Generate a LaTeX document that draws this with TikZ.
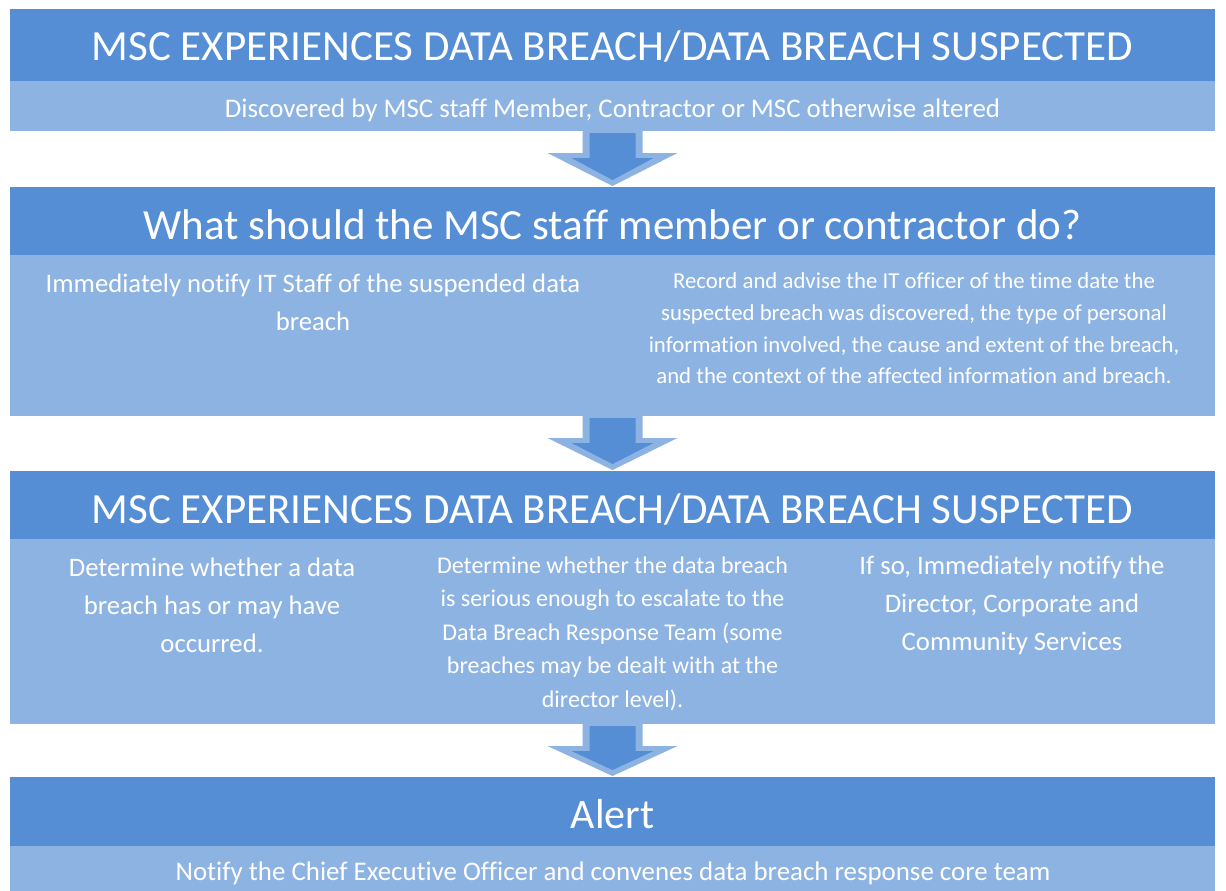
\documentclass[tikz,border=0pt]{standalone}
\usepackage{fontspec}
\setmainfont[Ligatures=CommonOff]{Carlito}
\usetikzlibrary{calc}
\definecolor{hdrblue}{RGB}{85,142,213}
\definecolor{subblue}{RGB}{141,179,226}

\tikzset{
  band/.style={anchor=north west, inner sep=0pt, outer sep=0pt, minimum width=1205pt},
  hdrbox/.style={band, fill=hdrblue},
  subbox/.style={band, fill=subblue},
  bodytext/.style={text=white, align=center, inner sep=0pt},
  hdrtext/.style={bodytext, anchor=base, font=\fontsize{43}{52}\selectfont},
  linetext/.style={bodytext, anchor=base, font=\fontsize{26.9}{32}\selectfont},
  bigbody/.style={bodytext, font=\fontsize{26.7}{38}\selectfont},
  smallbody/.style={bodytext, font=\fontsize{24}{33.5}\selectfont},
}

% block arrow pointing down from the band above to the band below
\newcommand\flowarrow[2]{%
  \fill[subblue] ($(#1.south)+(-30,0)$) -- ($(#1.south)+(30,0)$) -- ($(#1.south)+(30,22)$)
    -- ($(#1.south)+(65,22)$) -- ($(#2.north)+(0,-1)$) -- ($(#1.south)+(-65,22)$)
    -- ($(#1.south)+(-30,22)$) -- cycle;
  \fill[hdrblue] ($(#1.south)+(-23,2)$) -- ($(#1.south)+(23,2)$) -- ($(#1.south)+(23,27)$)
    -- ($(#1.south)+(41,27)$) -- ($(#2.north)+(0,-7)$) -- ($(#1.south)+(-41,27)$)
    -- ($(#1.south)+(-23,27)$) -- cycle;
}

\begin{document}
\begin{tikzpicture}[x=1pt, y=-1pt]
\useasboundingbox (0,0) rectangle (1226,891);
\fill[white] (0,0) rectangle (1226,891);

% step 1
\node[hdrbox, minimum height=72pt] (h1) at (10,9) {};
\node[subbox, minimum height=50pt] (s1) at (10,81) {};
\node[hdrtext] (t1) at (612.5,60.5) {MSC EXPERIENCES DATA BREACH/DATA BREACH SUSPECTED};
\node[linetext] (d1) at (612.5,117) {Discovered by MSC staff Member, Contractor or MSC otherwise altered};

% step 2
\node[hdrbox, minimum height=68pt] (h2) at (10,187) {};
\node[subbox, minimum height=161pt] (s2) at (10,255) {};
\node[hdrtext] (t2) at (612.5,239) {What should the MSC staff member or contractor do?};
\node[bigbody] (s2a) at (313,302) {Immediately notify IT Staff of the suspended data\\breach};
\node[bodytext, font=\fontsize{22.8}{31.7}\selectfont] (s2b) at (914,328.5) {Record and advise the IT officer of the time date the\\suspected breach was discovered, the type of personal\\information involved, the cause and extent of the breach,\\and the context of the affected information and breach.};

% step 3
\node[hdrbox, minimum height=68pt] (h3) at (10,471) {};
\node[subbox, minimum height=185pt] (s3) at (10,539) {};
\node[hdrtext] (t3) at (612.5,523.5) {MSC EXPERIENCES DATA BREACH/DATA BREACH SUSPECTED};
\node[bigbody] (s3a) at (212,605) {Determine whether a data\\breach has or may have\\occurred.};
\node[smallbody] (s3b) at (612.5,633.5) {Determine whether the data breach\\is serious enough to escalate to the\\Data Breach Response Team (some\\breaches may be dealt with at the\\director level).};
\node[bigbody] (s3c) at (1012,605) {If so, Immediately notify the\\Director, Corporate and\\Community Services};

% step 4
\node[hdrbox, minimum height=69pt] (h4) at (10,777) {};
\node[subbox, minimum height=50pt] (s4) at (10,846) {};
\node[hdrtext, font=\fontsize{42}{50}\selectfont] (t4) at (612.5,828.5) {Alert};
\node[linetext] (d4) at (613,880) {Notify the Chief Executive Officer and convenes data breach response core team};

\flowarrow{s1}{h2}
\flowarrow{s2}{h3}
\flowarrow{s3}{h4}
\end{tikzpicture}
\end{document}
